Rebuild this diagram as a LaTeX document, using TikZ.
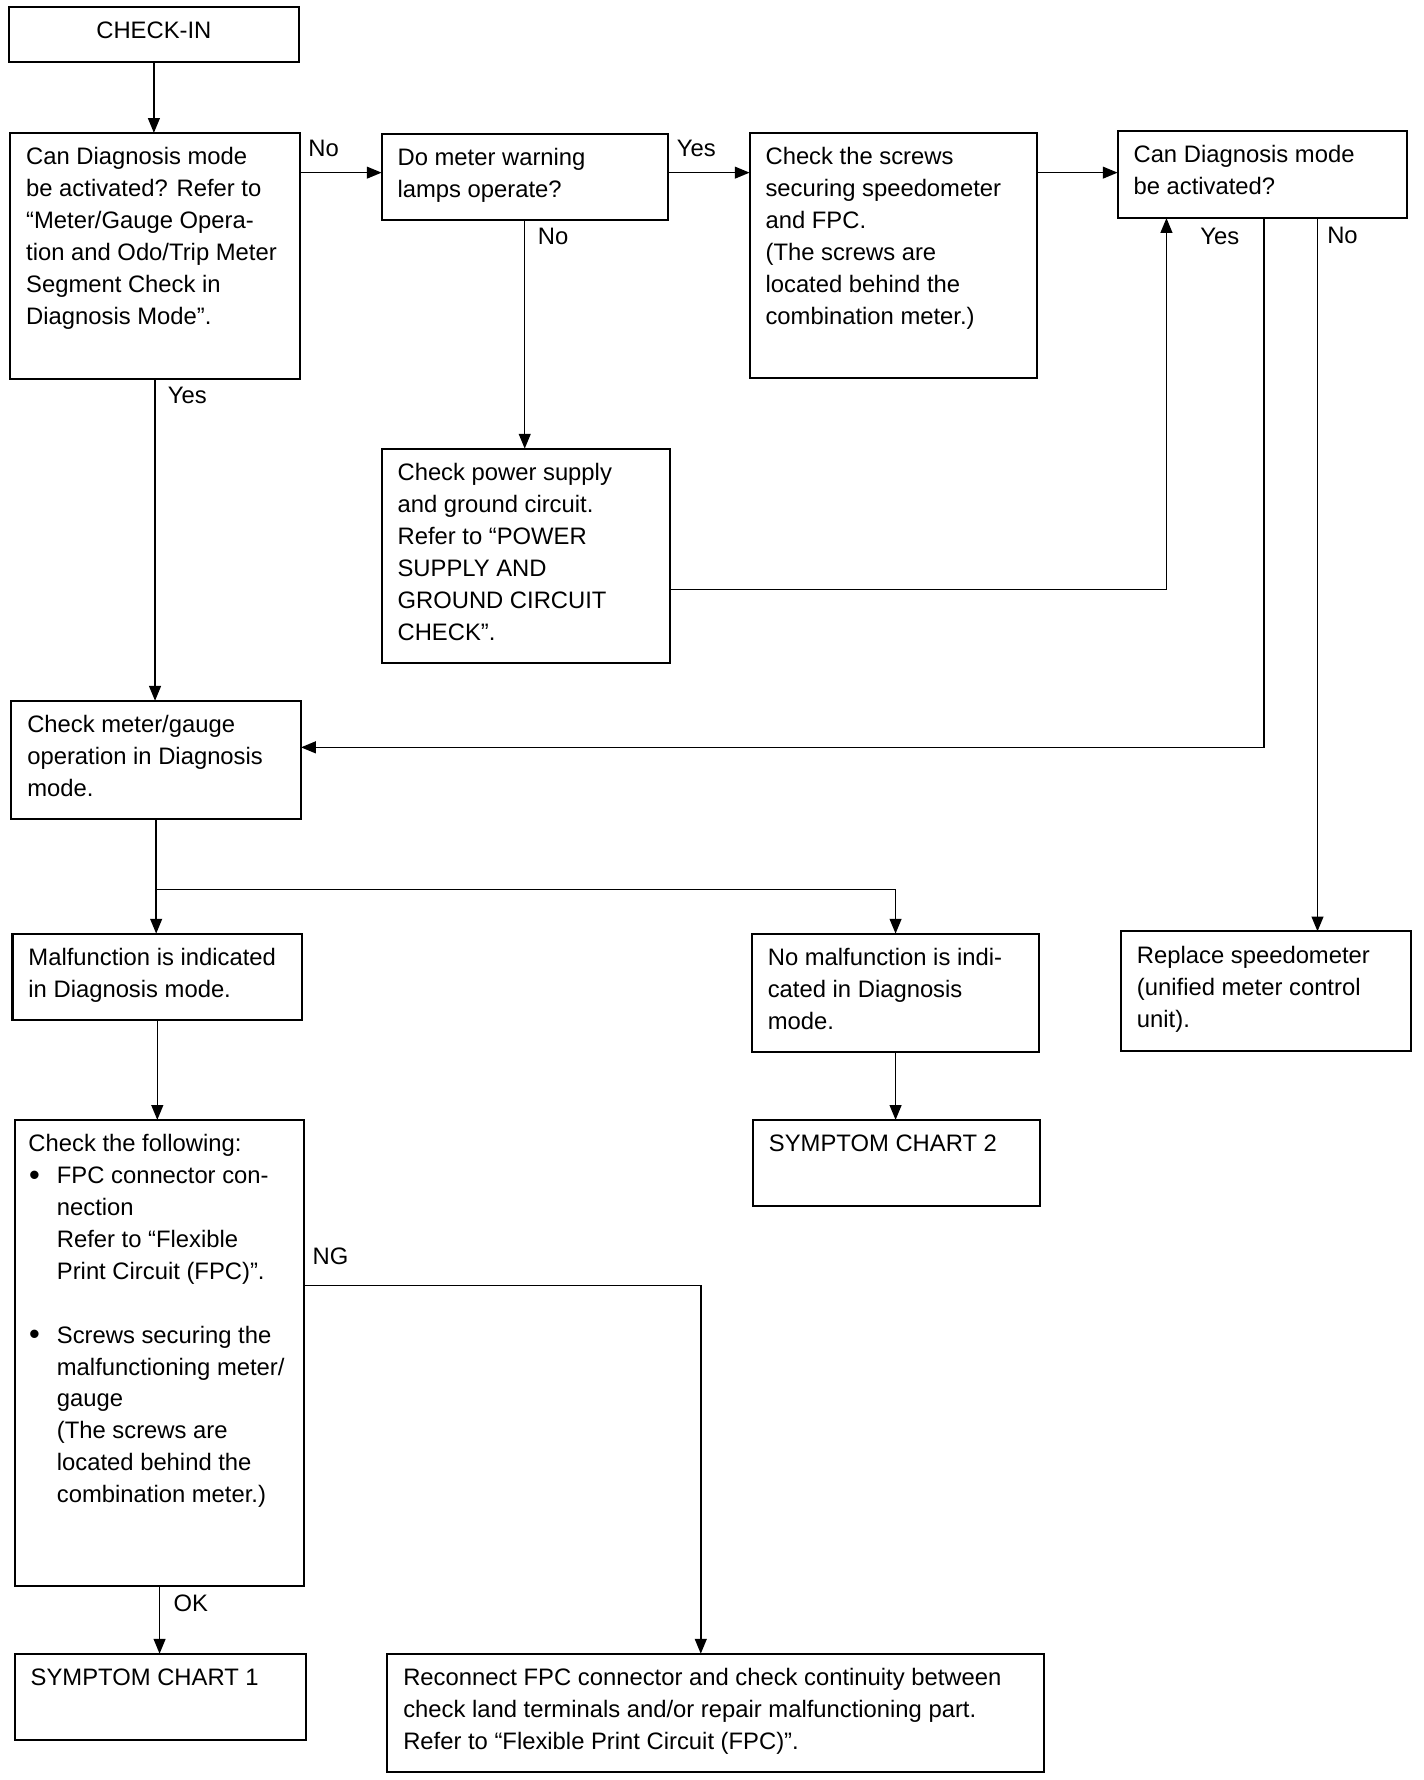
\documentclass[tikz,border=0pt]{standalone}
\usepackage{fontspec}
\setmainfont{Liberation Sans}
\usetikzlibrary{arrows.meta,calc}
\tikzset{
 box/.style={draw, line width=0.9pt, inner sep=0pt, outer sep=0pt, anchor=north west, font=\fontsize{10.45}{14}\selectfont},
 arr/.style={line width=0.65pt, -{Triangle[length=6.5pt,width=5.2pt]}},
 lbl/.style={font=\fontsize{10.45}{14}\selectfont, inner sep=0pt, anchor=base},
}
\newcommand\bx[6]{%
 \pgfmathsetlengthmacro\bw{0.4985pt*(#4-#2)}%
 \pgfmathsetlengthmacro\bh{0.4985pt*(#5-#3)}%
 \node[box] (#1) at (#2,#3) {\parbox[t][\bh][t]{\bw}{\raggedright\leftskip=7pt\rule{0pt}{14pt}#6}};}
\newcommand\ind{\hspace*{12.5pt}}
\newcommand\bul{\makebox[12.5pt][l]{\hspace{0.3pt}\raisebox{-0.7pt}{\fontsize{13.5}{14}\selectfont\textbullet}}}
\begin{document}
\begin{tikzpicture}[x=0.4985pt,y=-0.4985pt]
\useasboundingbox (0,0) rectangle (1253.76,1567.2);
% boxes
\bx{ci}{8}{6}{263}{55}{\centering CHECK-IN}
\bx{q1}{9}{117}{264}{334}{Can Diagnosis mode\\be activated? Refer to\\“Meter/Gauge Opera-\\tion and Odo/Trip Meter\\Segment Check in\\Diagnosis Mode”.}
\bx{q2}{336}{118}{588}{194}{Do meter warning\\lamps operate?}
\bx{scr}{660}{117}{913}{333}{Check the screws\\securing speedometer\\and FPC.\\(The screws are\\located behind the\\combination meter.)}
\bx{q3}{984}{115}{1239}{192}{Can Diagnosis mode\\be activated?}
\bx{pw}{336}{395}{590}{584}{Check power supply\\and ground circuit.\\Refer to “POWER\\SUPPLY AND\\GROUND CIRCUIT\\CHECK”.}
\bx{cm}{10}{617}{265}{721}{Check meter/gauge\\operation in Diagnosis\\mode.}
\bx{mf}{11}{822}{266}{898}{Malfunction is indicated\\in Diagnosis mode.}
\bx{nm}{662}{822}{915}{926}{No malfunction is indi-\\cated in Diagnosis\\mode.}
\bx{rep}{987}{820}{1242}{925}{Replace speedometer\\(unified meter control\\unit).}
\bx{cf}{13}{986}{268}{1396}{\leftskip=6pt Check the following:\\\bul FPC connector con-\\\ind nection\\\ind Refer to “Flexible\\\ind Print Circuit (FPC)”.\\\mbox{}\\\bul Screws securing the\\\ind malfunctioning meter/\\\ind gauge\\\ind (The screws are\\\ind located behind the\\\ind combination meter.)}
\bx{sc2}{663}{986}{916}{1062}{SYMPTOM CHART 2}
\bx{sc1}{13}{1456}{269}{1532}{SYMPTOM CHART 1}
\bx{rc}{341}{1456}{919}{1560}{Reconnect FPC connector and check continuity between\\check land terminals and/or repair malfunctioning part.\\Refer to “Flexible Print Circuit (FPC)”.}
% helper coordinates
\coordinate (r1) at ($(q1.north east)+(0,35)$);
\coordinate (p1) at ($(pw.north east)+(0,124)$);
\coordinate (c1) at ($(q3.south west)+(43,0)$);
\coordinate (c2) at ($(q3.south west)+(129,0)$);
\coordinate (c3) at ($(q3.south west)+(176,0)$);
\coordinate (cmr) at ($(cm.north east)+(0,41)$);
\coordinate (b1) at ($(cm.south)+(0,62)$);
\coordinate (n1) at ($(cf.north east)+(0,146)$);
\coordinate (rcn) at ($(rc.north west)+(276,0)$);
% connectors
\draw[arr] (ci.south) -- (ci.south |- q1.north);
\draw[arr] (r1) -- (r1 -| q2.west);
\draw[arr] (r1 -| q2.east) -- (r1 -| scr.west);
\draw[arr] (r1 -| scr.east) -- (r1 -| q3.west);
\draw[arr] (q2.south) -- (q2.south |- pw.north);
\draw[arr] (p1) -| (c1);
\draw[arr] (c2) |- (cmr);
\draw[arr] (c3) -- (c3 |- rep.north);
\draw[arr] (q1.south) -- (q1.south |- cm.north);
\draw[arr] (cm.south) -- (cm.south |- mf.north);
\draw[arr] (b1) -| (nm.north);
\draw[arr] (mf.south) -- (mf.south |- cf.north);
\draw[arr] (nm.south) -- (nm.south |- sc2.north);
\draw[arr] (cf.south) -- (cf.south |- sc1.north);
\draw[arr] (n1) -| (rcn);
% labels
\node[lbl] (l1) at (285,137.5) {No};
\node[lbl] (l2) at (613,137.5) {Yes};
\node[lbl] (l3) at (487,215.5) {No};
\node[lbl] (l4) at (165,355.5) {Yes};
\node[lbl] (l5) at (1074,215.5) {Yes};
\node[lbl] (l6) at (1182,214.5) {No};
\node[lbl] (l7) at (291,1113.5) {NG};
\node[lbl] (l8) at (168,1418.5) {OK};
\end{tikzpicture}
\end{document}
